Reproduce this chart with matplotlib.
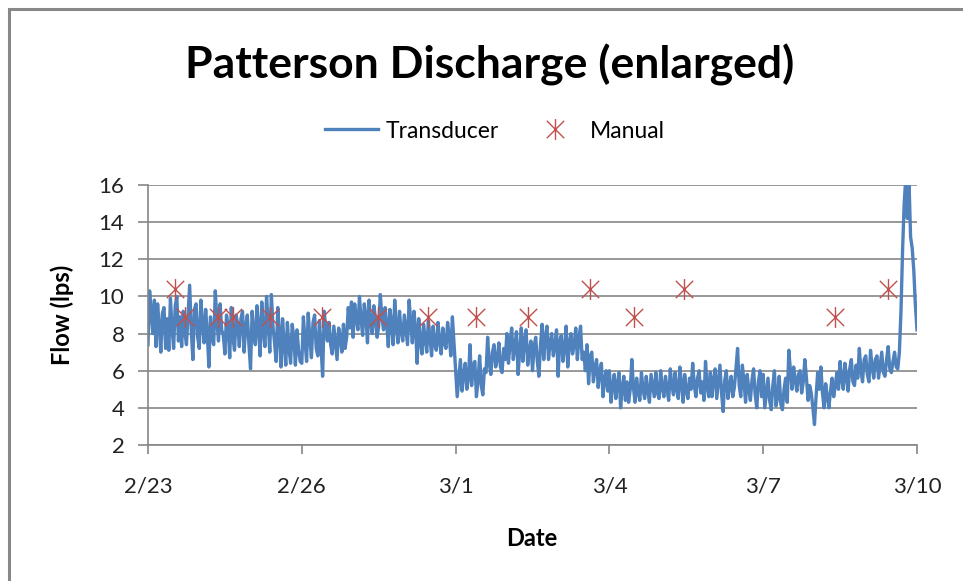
import numpy as np
import matplotlib
matplotlib.use("Agg")
import matplotlib.pyplot as plt
from matplotlib.path import Path
from matplotlib.patches import Rectangle

plt.rcParams['font.family'] = ['Lato', 'DejaVu Sans']

# Transducer flow (lps), one reading every 45 min (1/32 day) starting 2/23
transducer = [
    # 2/23
    7.4, 10.3, 9.2, 8.0, 9.8, 7.3, 9.6, 8.4, 7.0, 9.1, 9.4, 7.2, 8.8, 7.1, 9.9, 8.3,
    7.2, 9.5, 10.0, 7.6, 8.9, 7.3, 9.2, 8.1, 7.4, 9.0, 10.6, 8.2, 6.6, 9.3, 9.6, 7.8,
    # 2/24
    7.2, 9.8, 8.6, 7.5, 9.3, 8.0, 6.2, 8.9, 7.8, 7.4, 10.3, 8.7, 7.6, 9.6, 8.2, 7.9,
    6.9, 9.0, 8.4, 6.7, 9.4, 7.8, 7.1, 9.0, 8.5, 7.3, 8.8, 9.2, 7.0, 8.4, 9.0, 7.4,
    # 2/25
    6.1, 9.2, 8.0, 7.4, 9.5, 8.3, 6.8, 9.7, 8.1, 7.3, 10.0, 8.6, 7.0, 10.1, 8.4, 7.5,
    6.5, 9.4, 8.0, 6.2, 8.8, 7.4, 6.3, 8.6, 7.2, 6.4, 8.5, 7.8, 6.3, 8.2, 7.1, 6.5,
    # 2/26
    6.4, 8.9, 7.6, 6.5, 9.1, 7.8, 6.7, 8.6, 9.0, 7.2, 6.8, 8.7, 7.3, 5.7, 9.2, 8.2,
    7.6, 8.6, 7.4, 6.9, 8.4, 7.5, 6.6, 8.3, 7.8, 7.0, 8.5, 7.2, 7.8, 9.4, 8.3, 9.7,
    # 2/27
    7.8, 9.6, 8.8, 8.2, 10.0, 8.7, 7.9, 9.6, 9.0, 7.5, 9.8, 8.6, 8.0, 9.5, 8.8, 7.8,
    8.4, 10.1, 8.9, 8.2, 9.4, 8.5, 7.3, 9.3, 8.6, 7.4, 9.8, 8.4, 7.5, 9.2, 8.1, 7.6,
    # 2/28
    9.0, 8.2, 7.4, 9.8, 8.6, 7.5, 9.2, 8.3, 6.4, 8.8, 7.6, 6.9, 8.5, 7.7, 7.0, 8.7,
    7.8, 6.8, 8.4, 7.4, 7.1, 8.6, 7.6, 6.9, 8.3, 7.5, 7.2, 8.6, 7.9, 6.8, 8.9, 7.5,
    # 3/1
    6.0, 4.6, 5.6, 6.6, 4.9, 5.8, 6.4, 5.0, 5.6, 7.4, 5.2, 6.3, 6.5, 4.6, 5.5, 6.8,
    5.2, 4.7, 6.1, 5.9, 7.8, 6.4, 5.8, 7.0, 7.4, 6.2, 6.6, 7.5, 6.2, 5.9, 7.2, 6.6,
    # 3/2
    8.0, 6.4, 7.5, 8.3, 6.6, 7.3, 8.1, 5.8, 7.0, 8.3, 6.5, 7.6, 8.2, 6.3, 7.1, 7.6,
    6.0, 7.3, 7.8, 6.5, 5.7, 7.4, 8.5, 6.6, 7.8, 8.4, 6.6, 7.5, 8.0, 6.8, 7.4, 8.2,
    # 3/3
    5.7, 7.6, 7.9, 6.5, 7.2, 8.4, 6.2, 7.5, 8.0, 6.9, 7.4, 8.3, 6.6, 7.8, 8.4, 6.6,
    7.0, 6.0, 7.4, 5.3, 6.8, 7.0, 5.4, 6.2, 6.6, 5.1, 6.0, 6.4, 4.6, 5.5, 6.0, 4.9,
    # 3/4
    6.0, 4.3, 5.2, 5.8, 4.5, 5.3, 5.9, 4.0, 5.1, 5.7, 4.4, 5.4, 4.3, 5.0, 6.6, 5.1,
    4.3, 5.6, 4.8, 4.4, 5.9, 5.0, 4.5, 5.7, 4.9, 4.3, 5.8, 5.2, 4.6, 5.9, 4.8, 4.5,
    # 3/5
    6.0, 5.1, 4.6, 5.7, 5.0, 4.4, 6.1, 5.2, 4.7, 5.9, 5.0, 4.5, 6.2, 5.3, 4.3, 5.8,
    4.9, 4.5, 5.6, 5.0, 6.4, 5.2, 4.6, 5.6, 6.0, 4.8, 5.4, 4.4, 6.5, 5.1, 4.6, 5.9,
    # 3/6
    4.6, 5.5, 6.1, 4.5, 5.4, 6.3, 4.8, 3.8, 5.5, 6.0, 4.5, 5.2, 5.7, 4.6, 5.1, 6.1,
    7.2, 5.2, 4.6, 6.3, 5.4, 4.3, 5.8, 5.0, 4.4, 5.5, 6.1, 4.7, 4.0, 5.4, 6.0, 4.6,
    # 3/7
    5.8, 4.0, 4.8, 5.6, 4.4, 3.9, 5.2, 6.0, 4.1, 4.6, 5.7, 4.2, 3.9, 5.0, 5.6, 4.3,
    7.1, 6.0, 5.0, 6.2, 5.5, 4.9, 5.8, 6.0, 4.8, 5.4, 6.6, 5.6, 4.4, 5.2, 4.8, 4.0,
    # 3/8
    3.1, 4.6, 5.9, 5.0, 6.2, 4.8, 4.0, 5.3, 4.6, 4.0, 4.9, 5.6, 4.6, 5.2, 5.9, 5.0,
    6.5, 5.5, 5.0, 6.4, 5.7, 4.9, 6.1, 6.6, 5.4, 5.2, 6.3, 5.6, 7.2, 6.0, 5.4, 6.6,
    # 3/9
    6.8, 5.8, 5.4, 7.1, 6.2, 5.6, 6.6, 6.8, 5.6, 6.3, 7.0, 5.9, 5.7, 6.6, 7.3, 6.1,
    5.9, 6.5, 7.0, 6.2, 6.1, 7.0, 9.2, 12.5, 15.0, 16.4, 14.2, 16.2, 13.2, 12.6, 11.4, 9.5,
    # 3/10
    8.2,
]
transducer_days = np.arange(len(transducer)) / 32.0

# Manual measurements
manual_days = [0.53, 0.72, 1.37, 1.66, 2.38, 3.39, 4.49, 5.46, 6.40, 7.41, 8.62, 9.48, 10.45, 13.40, 14.43]
manual_flow = [10.4, 8.9, 8.9, 8.9, 8.9, 8.9, 8.9, 8.9, 8.9, 8.9, 10.4, 8.9, 10.4, 8.9, 10.4]

tick_days = [0, 3, 6, 9, 12, 15]
tick_labels = ['2/23', '2/26', '3/1', '3/4', '3/7', '3/10']

# asterisk marker like Excel's: X plus vertical bar
star = Path([(-1, -1), (1, 1), (-1, 1), (1, -1), (0, -1.2), (0, 1.2)],
            [Path.MOVETO, Path.LINETO] * 3)

fig = plt.figure(figsize=(9.63, 5.81), dpi=100)
ax = fig.add_axes([148 / 963, 1 - 445 / 581, (917 - 148) / 963, (445 - 185) / 581])

line, = ax.plot(transducer_days, transducer, color='#4F81BD', lw=2.4, label='Transducer')
pts, = ax.plot(manual_days, manual_flow, ls='none', marker=star, ms=15, mfc='none',
               mec='#C0504D', mew=1.0, label='Manual')

ax.set_xlim(0, 15)
ax.set_ylim(2, 16)
ax.set_yticks(range(2, 17, 2))
ax.set_xticks(tick_days)
ax.set_xticklabels(tick_labels)
ax.grid(axis='y', color='#868686', lw=1.2)
ax.set_axisbelow(True)
for s in ['top', 'right']:
    ax.spines[s].set_visible(False)
for s in ['left', 'bottom']:
    ax.spines[s].set_color('#868686')
    ax.spines[s].set_linewidth(1.2)
ax.tick_params(axis='x', length=6.5, width=1.2, color='#868686', pad=16, labelsize=16, labelcolor='#222222')
ax.tick_params(axis='y', length=7, width=1.2, color='#868686', pad=10, labelsize=16, labelcolor='#222222')

fig.text(490 / 963, 1 - 65 / 581, 'Patterson Discharge (enlarged)', ha='center', va='center',
         fontsize=32, fontweight='bold')
fig.text(532 / 963, 1 - 538 / 581, 'Date', ha='center', va='center', fontsize=17, fontweight='bold')
fig.text(62 / 963, 1 - 315 / 581, 'Flow (lps)', ha='center', va='center', rotation=90,
         fontsize=17, fontweight='bold')

fig.legend(handles=[line, pts], loc='center', bbox_to_anchor=(495 / 963, 1 - 131 / 581), ncol=2,
           frameon=False, fontsize=16.5, handlelength=2.3, handletextpad=0.35, columnspacing=1.3)

# chart area border (only top and left edges visible)
fig.patches.append(Rectangle((9 / 963, -0.1), 1.2, 1.1 - 9 / 581, transform=fig.transFigure,
                             fill=False, ec='#888888', lw=2.2))

fig.savefig('out.png', dpi=100)
